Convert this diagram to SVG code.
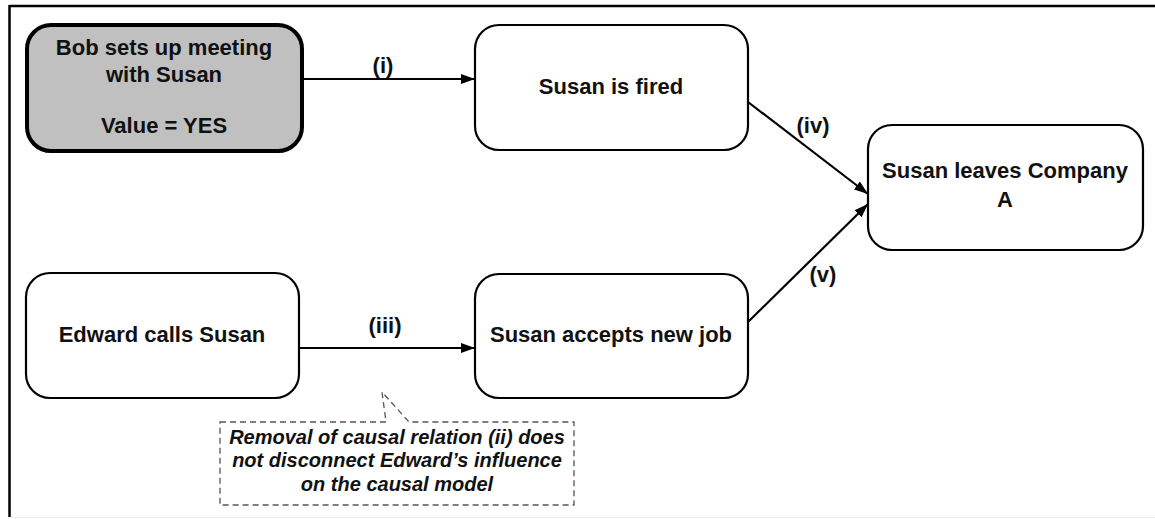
<svg xmlns="http://www.w3.org/2000/svg" width="1155" height="519" viewBox="0 0 1155 519">
  <style>
    .node { fill: #ffffff; stroke: #000000; stroke-width: 2.2; }
    .root { fill: #c0c0c0; stroke: #000000; stroke-width: 4; }
    .label { font-family: "Liberation Sans", Arial, sans-serif; font-size: 22px; font-weight: bold; fill: #111111; text-anchor: middle; }
    .edge { stroke: #000000; stroke-width: 2.2; fill: none; marker-end: url(#arrow); }
    .note { font-family: "Liberation Sans", Arial, sans-serif; font-size: 20px; font-weight: bold; font-style: italic; fill: #111111; text-anchor: middle; }
    .callout { fill: #ffffff; stroke: #555555; stroke-width: 1.3; stroke-dasharray: 6 4; }
  </style>
  <defs>
    <marker id="arrow" viewBox="0 0 14 10" refX="14" refY="5" markerWidth="14" markerHeight="10" markerUnits="userSpaceOnUse" orient="auto">
      <path d="M0,0 L14,5 L0,10 Z" fill="#000000"/>
    </marker>
  </defs>

  <rect width="1155" height="519" fill="#ffffff"/>

  <!-- frame -->
  <g id="frame">
    <line x1="9.5" y1="6" x2="1155" y2="6" stroke="#000000" stroke-width="2.5"/>
    <line x1="9.5" y1="5" x2="9.5" y2="517" stroke="#000000" stroke-width="2.5"/>
    <line x1="11" y1="517.5" x2="1155" y2="517.5" stroke="#ececec" stroke-width="1"/>
  </g>

  <!-- connectors -->
  <g id="connectors">
    <line class="edge" x1="302" y1="79" x2="475" y2="79"/>
    <text class="label" x="383" y="73">(i)</text>
    <line class="edge" x1="299" y1="348" x2="475" y2="348"/>
    <text class="label" x="385" y="333">(iii)</text>
    <line class="edge" x1="748" y1="102" x2="868" y2="194"/>
    <text class="label" x="813" y="133">(iv)</text>
    <line class="edge" x1="748" y1="322" x2="868" y2="204"/>
    <text class="label" x="823" y="282">(v)</text>
  </g>

  <g id="bob">
    <rect class="root" x="27" y="25" width="275" height="126" rx="24"/>
    <text class="label" x="164" y="55">Bob sets up meeting</text>
    <text class="label" x="164" y="82">with Susan</text>
    <text class="label" x="164" y="133">Value = YES</text>
  </g>

  <g id="fired">
    <rect class="node" x="475" y="25" width="273" height="125" rx="24"/>
    <text class="label" x="611" y="94">Susan is fired</text>
  </g>

  <g id="leaves">
    <rect class="node" x="868" y="125" width="275" height="125" rx="24"/>
    <text class="label" x="1005" y="178">Susan leaves Company</text>
    <text class="label" x="1005" y="207">A</text>
  </g>

  <g id="edward">
    <rect class="node" x="26" y="273" width="273" height="125" rx="24"/>
    <text class="label" x="162" y="342">Edward calls Susan</text>
  </g>

  <g id="accepts">
    <rect class="node" x="475" y="274" width="273" height="124" rx="24"/>
    <text class="label" x="611" y="342">Susan accepts new job</text>
  </g>

  <g id="note">
    <path class="callout" d="M220,422 L386,422 L382,392 L409,422 L574,422 L574,505 L220,505 Z"/>
    <text class="note" x="397" y="444">Removal of causal relation (ii) does</text>
    <text class="note" x="397" y="467">not disconnect Edward’s influence</text>
    <text class="note" x="397" y="491">on the causal model</text>
  </g>
</svg>
